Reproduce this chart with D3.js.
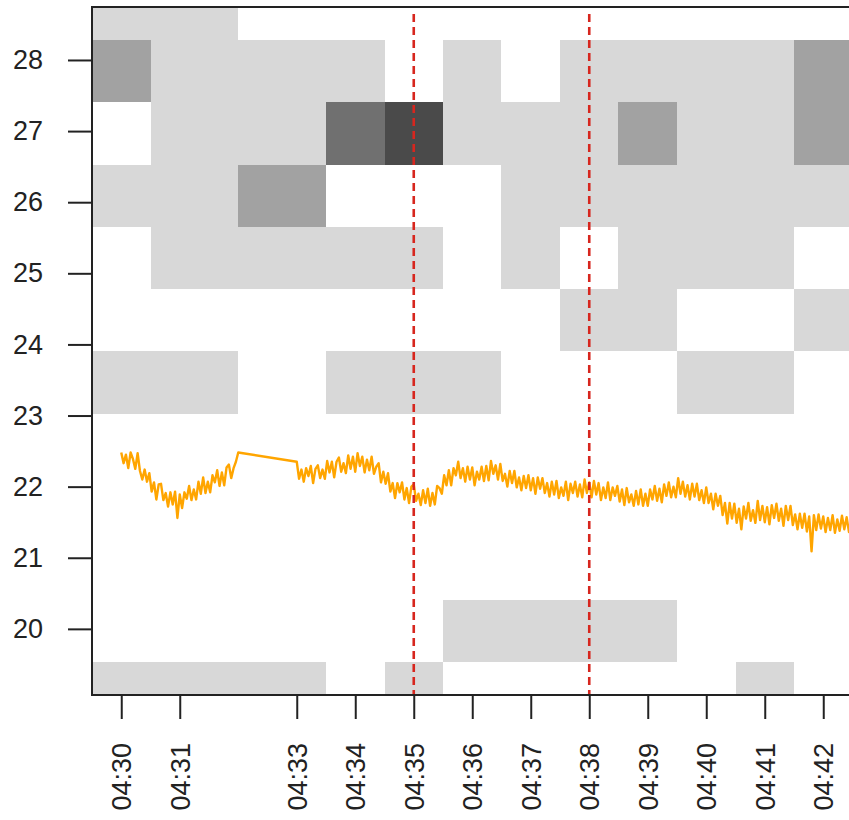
<!DOCTYPE html>
<html>
<head>
<meta charset="utf-8">
<script src="https://cdn.jsdelivr.net/npm/d3@7"></script>
<style>
  body { margin: 0; background: #fff; }
  svg text { font-family: "Liberation Sans", Arial, sans-serif; fill: #222; }
</style>
</head>
<body>
<div id="chart"></div>
<script>
// minutes after 04:00 for each grid column (04:32 has no data)
var colTimes = [30, 31, 33, 34, 35, 36, 37, 38, 39, 40, 41, 42];
// grid row centres, bottom to top
var rowCenters = [19.09, 19.965, 20.84, 21.715, 22.59, 23.465, 24.34, 25.215, 26.09, 26.965, 27.84, 28.715];
// counts per cell, rows listed bottom to top, one value per column
var counts = [
    [1, 1, 1, 0, 1, 0, 0, 0, 0, 0, 1, 0],
    [0, 0, 0, 0, 0, 1, 1, 1, 1, 0, 0, 0],
    [0, 0, 0, 0, 0, 0, 0, 0, 0, 0, 0, 0],
    [0, 0, 0, 0, 0, 0, 0, 0, 0, 0, 0, 0],
    [0, 0, 0, 0, 0, 0, 0, 0, 0, 0, 0, 0],
    [1, 1, 0, 1, 1, 1, 0, 0, 0, 1, 1, 0],
    [0, 0, 0, 0, 0, 0, 0, 1, 1, 0, 0, 1],
    [0, 1, 1, 1, 1, 0, 1, 0, 1, 1, 1, 0],
    [1, 1, 2, 0, 0, 0, 1, 1, 1, 1, 1, 1],
    [0, 1, 1, 3, 4, 1, 1, 1, 2, 1, 1, 2],
    [2, 1, 1, 1, 0, 1, 0, 1, 1, 1, 1, 2],
    [1, 1, 0, 0, 0, 0, 0, 0, 0, 0, 0, 0]
];
var yTicks = [20, 21, 22, 23, 24, 25, 26, 27, 28];
var markerTimes = [35, 38];

// temperature trace, two recorded stretches sampled every 0.04 min
var sampleStep = 0.04;
var seg1Start = 30.0;
var seg1Values = [
    22.48, 22.33, 22.45, 22.26, 22.48, 22.39, 22.25, 22.47, 22.22, 22.10,
    22.24, 22.07, 22.19, 21.93, 22.06, 21.82, 22.03, 22.04, 21.81, 21.91,
    21.72, 21.92, 21.75, 21.93, 21.56, 21.89, 21.70, 21.92, 21.83, 22.01,
    21.81, 21.96, 21.82, 22.07, 21.90, 22.13, 21.91, 22.07, 21.92, 22.16,
    22.06, 22.23, 22.01, 22.20, 22.02, 22.27, 22.31, 22.12, 22.26, 22.35,
    22.48
];
var seg2Start = 33.0;
var seg2Values = [
    // 04:33
    22.35, 22.11, 22.24, 22.07, 22.26, 22.15, 22.29, 22.05, 22.25, 22.30, 22.12, 22.24, 22.11,
    22.36, 22.20, 22.35, 22.13, 22.35, 22.41, 22.21, 22.33, 22.19, 22.44, 22.25, 22.42,
    // 04:34
    22.21, 22.47, 22.29, 22.42, 22.20, 22.38, 22.23, 22.42, 22.18, 22.28, 22.33, 22.06, 22.21,
    22.04, 22.19, 21.93, 22.05, 21.84, 22.05, 21.92, 22.06, 21.82, 21.98, 21.77, 22.00,
    // 04:35
    22.03, 21.80, 21.90, 21.74, 21.95, 21.77, 21.97, 21.73, 21.91, 21.75, 22.01, 21.98, 21.90,
    22.16, 22.02, 22.23, 22.02, 22.26, 22.16, 22.35, 22.12, 22.26, 22.07, 22.28, 22.10,
    // 04:36
    22.27, 22.02, 22.21, 22.10, 22.28, 22.08, 22.29, 22.09, 22.36, 22.18, 22.30, 22.10, 22.32,
    22.08, 22.18, 22.00, 22.22, 22.05, 22.22, 21.99, 22.13, 21.95, 22.15, 21.98, 22.16,
    // 04:37
    21.95, 22.12, 21.90, 22.13, 21.97, 22.12, 21.91, 22.05, 21.86, 22.07, 21.89, 22.08, 21.84,
    21.99, 21.87, 22.07, 21.81, 22.04, 21.91, 22.07, 21.86, 22.03, 21.85, 22.10, 21.91,
    // 04:38
    22.06, 21.85, 22.08, 21.89, 22.05, 21.81, 21.99, 21.84, 22.06, 21.81, 21.99, 21.87, 22.01,
    21.79, 21.96, 21.74, 21.98, 21.78, 21.89, 21.73, 21.94, 21.75, 21.96, 21.73, 21.90,
    // 04:39
    21.73, 21.96, 21.82, 22.01, 21.80, 21.97, 21.78, 22.03, 21.87, 22.06, 21.85, 22.00, 21.85,
    22.12, 21.90, 22.07, 21.86, 22.02, 21.82, 22.04, 21.86, 22.04, 21.81, 21.95, 21.77,
    // 04:40
    21.99, 21.77, 21.90, 21.68, 21.90, 21.73, 21.87, 21.60, 21.77, 21.48, 21.77, 21.55, 21.76,
    21.49, 21.69, 21.40, 21.72, 21.55, 21.77, 21.52, 21.67, 21.49, 21.80, 21.53, 21.73,
    // 04:41
    21.50, 21.71, 21.47, 21.74, 21.56, 21.76, 21.52, 21.69, 21.45, 21.73, 21.53, 21.73, 21.46,
    21.61, 21.40, 21.62, 21.42, 21.62, 21.37, 21.58, 21.09, 21.60, 21.39, 21.61, 21.41,
    // 04:42
    21.58, 21.36, 21.56, 21.39, 21.60, 21.35, 21.54, 21.38, 21.59, 21.40, 21.57, 21.36, 21.55, 21.43
];

var width = 849, height = 820;
var plot = { left: 92, top: 7, right: 852.5, bottom: 695 };

var svg = d3.select("#chart").append("svg")
    .attr("width", width)
    .attr("height", height);

var x = d3.scaleLinear().domain([29.5, 42.5]).range([plot.left, plot.right]);
var y = d3.scaleLinear().domain([19.07, 28.745]).range([plot.bottom, plot.top]);

var shade = d3.scaleOrdinal()
    .domain([1, 2, 3, 4])
    .range(["#d8d8d8", "#a2a2a2", "#707070", "#4a4a4a"]);

svg.append("clipPath").attr("id", "clip")
    .append("rect")
    .attr("x", plot.left).attr("y", plot.top)
    .attr("width", plot.right - plot.left).attr("height", plot.bottom - plot.top);

// cell edges halfway between neighbouring centres, like image()
function edges(centers, firstHalf, lastHalf) {
    var e = [centers[0] - firstHalf];
    for (var i = 1; i < centers.length; i++) e.push((centers[i - 1] + centers[i]) / 2);
    e.push(centers[centers.length - 1] + lastHalf);
    return e;
}
var xEdges = edges(colTimes, 0.5, 0.5);
var yEdges = edges(rowCenters, 0.4375, 0.4375);

var cells = [];
counts.forEach(function(row, r) {
    row.forEach(function(n, c) {
        if (n > 0) cells.push({ r: r, c: c, n: n });
    });
});

var grid = svg.append("g").attr("clip-path", "url(#clip)");
grid.selectAll("rect.cell")
    .data(cells)
    .enter().append("rect")
    .attr("class", "cell")
    .attr("shape-rendering", "crispEdges")
    .attr("x", d => Math.round(x(xEdges[d.c])))
    .attr("width", d => Math.round(x(xEdges[d.c + 1])) - Math.round(x(xEdges[d.c])))
    .attr("y", d => Math.round(y(yEdges[d.r + 1])))
    .attr("height", d => Math.round(y(yEdges[d.r])) - Math.round(y(yEdges[d.r + 1])))
    .attr("fill", d => shade(d.n));

// trace
var trace = seg1Values.map((v, i) => ({ t: seg1Start + i * sampleStep, v: v }))
    .concat(seg2Values.map((v, i) => ({ t: seg2Start + i * sampleStep, v: v })));

var line = d3.line().x(d => x(d.t)).y(d => y(d.v));
grid.append("path")
    .datum(trace)
    .attr("fill", "none")
    .attr("stroke", "#ffa500")
    .attr("stroke-width", 2.4)
    .attr("stroke-linejoin", "round")
    .attr("d", line);

// red dashed markers
svg.selectAll("line.marker")
    .data(markerTimes)
    .enter().append("line")
    .attr("class", "marker")
    .attr("x1", d => x(d)).attr("x2", d => x(d))
    .attr("y1", 14).attr("y2", plot.bottom)
    .attr("stroke", "#d7261e")
    .attr("stroke-width", 2.6)
    .attr("stroke-dasharray", "8,5");

// frame
svg.append("rect")
    .attr("x", plot.left).attr("y", plot.top)
    .attr("width", plot.right - plot.left).attr("height", plot.bottom - plot.top)
    .attr("fill", "none")
    .attr("stroke", "#222")
    .attr("stroke-width", 2);

// y axis
var yAxis = svg.append("g")
    .attr("transform", "translate(" + plot.left + ",0)")
    .call(d3.axisLeft(y).tickValues(yTicks).tickSize(24).tickPadding(25).tickFormat(d3.format("d")));
yAxis.select(".domain").remove();
yAxis.selectAll(".tick line").attr("stroke", "#222").attr("stroke-width", 2);
yAxis.selectAll("text").style("font-size", "27px").attr("fill", "#222");

// x axis
var xAxis = svg.append("g")
    .attr("transform", "translate(0," + plot.bottom + ")")
    .call(d3.axisBottom(x).tickValues(colTimes).tickSize(24)
        .tickFormat(d => "04:" + d3.format("02d")(d)));
xAxis.select(".domain").remove();
xAxis.selectAll(".tick line").attr("stroke", "#222").attr("stroke-width", 2);
xAxis.selectAll("text")
    .style("font-size", "27px")
    .attr("fill", "#222")
    .attr("transform", "rotate(-90)")
    .attr("x", -48)
    .attr("y", 0)
    .attr("dy", "0.35em")
    .style("text-anchor", "end");
</script>
</body>
</html>
